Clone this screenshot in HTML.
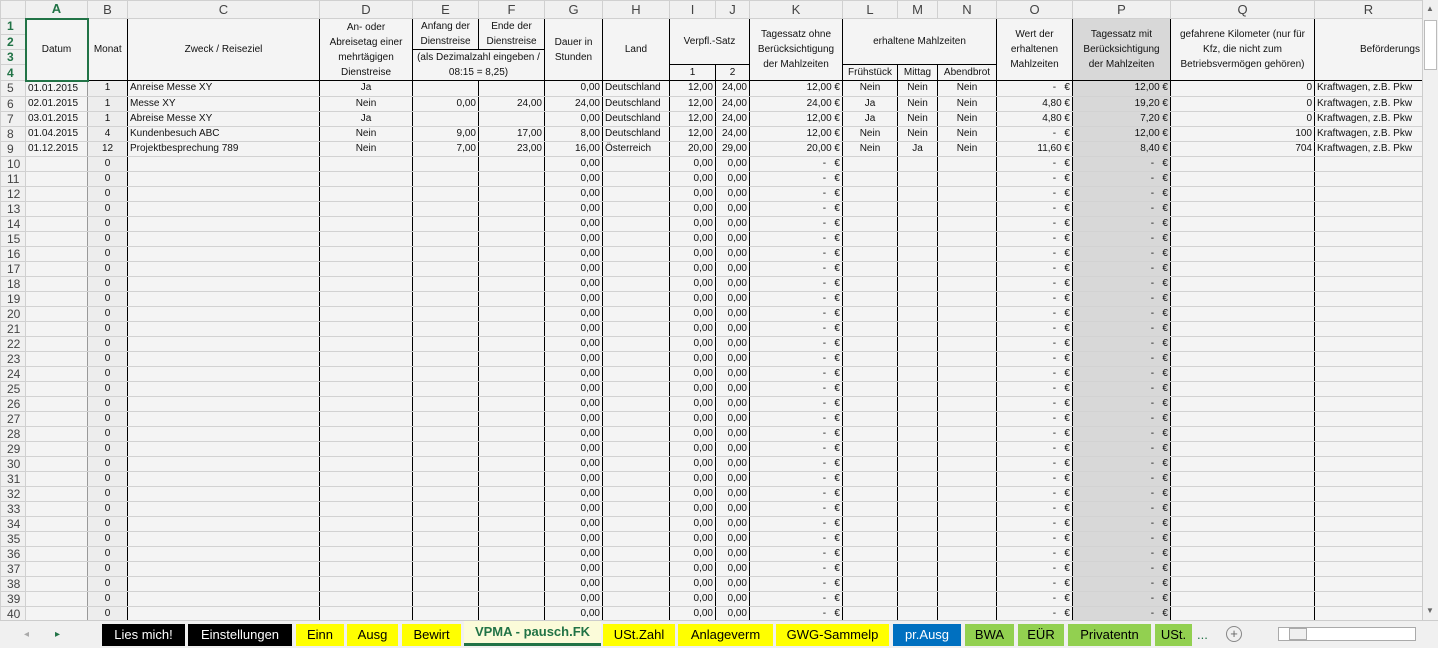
<!DOCTYPE html>
<html><head><meta charset="utf-8">
<style>
*{box-sizing:border-box}
body{margin:0;width:1438px;height:648px;overflow:hidden;background:#f4f4f4;font-family:"Liberation Sans",sans-serif;font-size:10px;color:#111;position:relative}
table{border-collapse:collapse;table-layout:fixed;position:absolute;left:0;top:0;width:1422px}
td,th{padding:0 2px;white-space:nowrap;overflow:hidden;height:15px;line-height:14px;border:1px solid #d2d2d2}
thead th{height:18px;background:#f0f0f0;color:#444;font-weight:normal;font-size:13px;border-color:#d0d0d0}
tbody th{background:#f0f0f0;color:#444;font-weight:normal;font-size:12px;text-align:left;padding-left:6px;border-color:#d0d0d0}
.h td{text-align:center;white-space:normal;line-height:15px;border:1px solid #000;background:#f4f4f4;font-size:10px}
.d td{border-left:1px solid #000;border-right:1px solid #000}
.d td:nth-child(2){border-right:1px solid #999}
.d td:nth-child(3){background:#ededed;text-align:center;border-left:1px solid #999}
.d td:nth-child(17){background:#d8d8d8}
.r{text-align:right}.c{text-align:center}
.g{color:#217346;font-weight:bold!important}
#tabs{position:absolute;left:0;top:620px;width:1438px;height:28px;background:#f0f0f0;border-top:1px solid #ccc}
.t{position:absolute;top:3px;height:22px;line-height:22px;text-align:center;font-size:13px;color:#000}
.y{background:#ffff00}.b{background:#000;color:#fff}.gr{background:#92d050}
</style></head><body>
<table>
<colgroup><col style="width:25px"><col style="width:62px"><col style="width:40px"><col style="width:192px"><col style="width:93px"><col style="width:66px"><col style="width:66px"><col style="width:58px"><col style="width:67px"><col style="width:46px"><col style="width:34px"><col style="width:93px"><col style="width:55px"><col style="width:40px"><col style="width:59px"><col style="width:76px"><col style="width:98px"><col style="width:144px"><col style="width:108px"></colgroup>
<thead><tr><th></th><th class="g" style="border-bottom:2px solid #217346">A</th><th>B</th><th>C</th><th>D</th><th>E</th><th>F</th><th>G</th><th>H</th><th>I</th><th>J</th><th>K</th><th>L</th><th>M</th><th>N</th><th>O</th><th>P</th><th>Q</th><th>R</th></tr></thead>
<tbody>
<tr class="h"><th class="g">1</th><td rowspan="4" style="border:2px solid #217346">Datum</td><td rowspan="4">Monat</td><td rowspan="4">Zweck / Reiseziel</td><td rowspan="4">An- oder Abreisetag einer mehrtägigen Dienstreise</td><td rowspan="2">Anfang der Dienstreise</td><td rowspan="2">Ende der Dienstreise</td><td rowspan="4">Dauer in Stunden</td><td rowspan="4">Land</td><td rowspan="3" colspan="2">Verpfl.-Satz</td><td rowspan="4">Tagessatz ohne Berücksichtigung der Mahlzeiten</td><td rowspan="3" colspan="3">erhaltene Mahlzeiten</td><td rowspan="4">Wert der erhaltenen Mahlzeiten</td><td rowspan="4" style="background:#d8d8d8">Tagessatz mit Berücksichtigung der Mahlzeiten</td><td rowspan="4">gefahrene Kilometer (nur für Kfz, die nicht zum Betriebsvermögen gehören)</td><td rowspan="4" style="text-align:right">Beförderungs</td></tr>
<tr class="h"><th class="g">2</th></tr>
<tr class="h"><th class="g">3</th><td colspan="2" rowspan="2">(als Dezimalzahl eingeben / 08:15 = 8,25)</td></tr>
<tr class="h"><th class="g">4</th><td>1</td><td>2</td><td>Frühstück</td><td>Mittag</td><td>Abendbrot</td></tr>
<tr class="d"><th>5</th><td>01.01.2015</td><td>1</td><td>Anreise Messe XY</td><td class="c">Ja</td><td></td><td></td><td class="r">0,00</td><td>Deutschland</td><td class="r">12,00</td><td class="r">24,00</td><td class="r">12,00 €</td><td class="c">Nein</td><td class="c">Nein</td><td class="c">Nein</td><td class="r">-&nbsp;&nbsp;&nbsp;€</td><td class="r">12,00 €</td><td class="r">0</td><td>Kraftwagen, z.B. Pkw</td></tr>
<tr class="d"><th>6</th><td>02.01.2015</td><td>1</td><td>Messe XY</td><td class="c">Nein</td><td class="r">0,00</td><td class="r">24,00</td><td class="r">24,00</td><td>Deutschland</td><td class="r">12,00</td><td class="r">24,00</td><td class="r">24,00 €</td><td class="c">Ja</td><td class="c">Nein</td><td class="c">Nein</td><td class="r">4,80 €</td><td class="r">19,20 €</td><td class="r">0</td><td>Kraftwagen, z.B. Pkw</td></tr>
<tr class="d"><th>7</th><td>03.01.2015</td><td>1</td><td>Abreise Messe XY</td><td class="c">Ja</td><td></td><td></td><td class="r">0,00</td><td>Deutschland</td><td class="r">12,00</td><td class="r">24,00</td><td class="r">12,00 €</td><td class="c">Ja</td><td class="c">Nein</td><td class="c">Nein</td><td class="r">4,80 €</td><td class="r">7,20 €</td><td class="r">0</td><td>Kraftwagen, z.B. Pkw</td></tr>
<tr class="d"><th>8</th><td>01.04.2015</td><td>4</td><td>Kundenbesuch ABC</td><td class="c">Nein</td><td class="r">9,00</td><td class="r">17,00</td><td class="r">8,00</td><td>Deutschland</td><td class="r">12,00</td><td class="r">24,00</td><td class="r">12,00 €</td><td class="c">Nein</td><td class="c">Nein</td><td class="c">Nein</td><td class="r">-&nbsp;&nbsp;&nbsp;€</td><td class="r">12,00 €</td><td class="r">100</td><td>Kraftwagen, z.B. Pkw</td></tr>
<tr class="d"><th>9</th><td>01.12.2015</td><td>12</td><td>Projektbesprechung 789</td><td class="c">Nein</td><td class="r">7,00</td><td class="r">23,00</td><td class="r">16,00</td><td>Österreich</td><td class="r">20,00</td><td class="r">29,00</td><td class="r">20,00 €</td><td class="c">Nein</td><td class="c">Ja</td><td class="c">Nein</td><td class="r">11,60 €</td><td class="r">8,40 €</td><td class="r">704</td><td>Kraftwagen, z.B. Pkw</td></tr>
<tr class="d"><th>10</th><td></td><td>0</td><td></td><td></td><td></td><td></td><td class="r">0,00</td><td></td><td class="r">0,00</td><td class="r">0,00</td><td class="r">-&nbsp;&nbsp;&nbsp;€</td><td></td><td></td><td></td><td class="r">-&nbsp;&nbsp;&nbsp;€</td><td class="r">-&nbsp;&nbsp;&nbsp;€</td><td></td><td></td></tr>
<tr class="d"><th>11</th><td></td><td>0</td><td></td><td></td><td></td><td></td><td class="r">0,00</td><td></td><td class="r">0,00</td><td class="r">0,00</td><td class="r">-&nbsp;&nbsp;&nbsp;€</td><td></td><td></td><td></td><td class="r">-&nbsp;&nbsp;&nbsp;€</td><td class="r">-&nbsp;&nbsp;&nbsp;€</td><td></td><td></td></tr>
<tr class="d"><th>12</th><td></td><td>0</td><td></td><td></td><td></td><td></td><td class="r">0,00</td><td></td><td class="r">0,00</td><td class="r">0,00</td><td class="r">-&nbsp;&nbsp;&nbsp;€</td><td></td><td></td><td></td><td class="r">-&nbsp;&nbsp;&nbsp;€</td><td class="r">-&nbsp;&nbsp;&nbsp;€</td><td></td><td></td></tr>
<tr class="d"><th>13</th><td></td><td>0</td><td></td><td></td><td></td><td></td><td class="r">0,00</td><td></td><td class="r">0,00</td><td class="r">0,00</td><td class="r">-&nbsp;&nbsp;&nbsp;€</td><td></td><td></td><td></td><td class="r">-&nbsp;&nbsp;&nbsp;€</td><td class="r">-&nbsp;&nbsp;&nbsp;€</td><td></td><td></td></tr>
<tr class="d"><th>14</th><td></td><td>0</td><td></td><td></td><td></td><td></td><td class="r">0,00</td><td></td><td class="r">0,00</td><td class="r">0,00</td><td class="r">-&nbsp;&nbsp;&nbsp;€</td><td></td><td></td><td></td><td class="r">-&nbsp;&nbsp;&nbsp;€</td><td class="r">-&nbsp;&nbsp;&nbsp;€</td><td></td><td></td></tr>
<tr class="d"><th>15</th><td></td><td>0</td><td></td><td></td><td></td><td></td><td class="r">0,00</td><td></td><td class="r">0,00</td><td class="r">0,00</td><td class="r">-&nbsp;&nbsp;&nbsp;€</td><td></td><td></td><td></td><td class="r">-&nbsp;&nbsp;&nbsp;€</td><td class="r">-&nbsp;&nbsp;&nbsp;€</td><td></td><td></td></tr>
<tr class="d"><th>16</th><td></td><td>0</td><td></td><td></td><td></td><td></td><td class="r">0,00</td><td></td><td class="r">0,00</td><td class="r">0,00</td><td class="r">-&nbsp;&nbsp;&nbsp;€</td><td></td><td></td><td></td><td class="r">-&nbsp;&nbsp;&nbsp;€</td><td class="r">-&nbsp;&nbsp;&nbsp;€</td><td></td><td></td></tr>
<tr class="d"><th>17</th><td></td><td>0</td><td></td><td></td><td></td><td></td><td class="r">0,00</td><td></td><td class="r">0,00</td><td class="r">0,00</td><td class="r">-&nbsp;&nbsp;&nbsp;€</td><td></td><td></td><td></td><td class="r">-&nbsp;&nbsp;&nbsp;€</td><td class="r">-&nbsp;&nbsp;&nbsp;€</td><td></td><td></td></tr>
<tr class="d"><th>18</th><td></td><td>0</td><td></td><td></td><td></td><td></td><td class="r">0,00</td><td></td><td class="r">0,00</td><td class="r">0,00</td><td class="r">-&nbsp;&nbsp;&nbsp;€</td><td></td><td></td><td></td><td class="r">-&nbsp;&nbsp;&nbsp;€</td><td class="r">-&nbsp;&nbsp;&nbsp;€</td><td></td><td></td></tr>
<tr class="d"><th>19</th><td></td><td>0</td><td></td><td></td><td></td><td></td><td class="r">0,00</td><td></td><td class="r">0,00</td><td class="r">0,00</td><td class="r">-&nbsp;&nbsp;&nbsp;€</td><td></td><td></td><td></td><td class="r">-&nbsp;&nbsp;&nbsp;€</td><td class="r">-&nbsp;&nbsp;&nbsp;€</td><td></td><td></td></tr>
<tr class="d"><th>20</th><td></td><td>0</td><td></td><td></td><td></td><td></td><td class="r">0,00</td><td></td><td class="r">0,00</td><td class="r">0,00</td><td class="r">-&nbsp;&nbsp;&nbsp;€</td><td></td><td></td><td></td><td class="r">-&nbsp;&nbsp;&nbsp;€</td><td class="r">-&nbsp;&nbsp;&nbsp;€</td><td></td><td></td></tr>
<tr class="d"><th>21</th><td></td><td>0</td><td></td><td></td><td></td><td></td><td class="r">0,00</td><td></td><td class="r">0,00</td><td class="r">0,00</td><td class="r">-&nbsp;&nbsp;&nbsp;€</td><td></td><td></td><td></td><td class="r">-&nbsp;&nbsp;&nbsp;€</td><td class="r">-&nbsp;&nbsp;&nbsp;€</td><td></td><td></td></tr>
<tr class="d"><th>22</th><td></td><td>0</td><td></td><td></td><td></td><td></td><td class="r">0,00</td><td></td><td class="r">0,00</td><td class="r">0,00</td><td class="r">-&nbsp;&nbsp;&nbsp;€</td><td></td><td></td><td></td><td class="r">-&nbsp;&nbsp;&nbsp;€</td><td class="r">-&nbsp;&nbsp;&nbsp;€</td><td></td><td></td></tr>
<tr class="d"><th>23</th><td></td><td>0</td><td></td><td></td><td></td><td></td><td class="r">0,00</td><td></td><td class="r">0,00</td><td class="r">0,00</td><td class="r">-&nbsp;&nbsp;&nbsp;€</td><td></td><td></td><td></td><td class="r">-&nbsp;&nbsp;&nbsp;€</td><td class="r">-&nbsp;&nbsp;&nbsp;€</td><td></td><td></td></tr>
<tr class="d"><th>24</th><td></td><td>0</td><td></td><td></td><td></td><td></td><td class="r">0,00</td><td></td><td class="r">0,00</td><td class="r">0,00</td><td class="r">-&nbsp;&nbsp;&nbsp;€</td><td></td><td></td><td></td><td class="r">-&nbsp;&nbsp;&nbsp;€</td><td class="r">-&nbsp;&nbsp;&nbsp;€</td><td></td><td></td></tr>
<tr class="d"><th>25</th><td></td><td>0</td><td></td><td></td><td></td><td></td><td class="r">0,00</td><td></td><td class="r">0,00</td><td class="r">0,00</td><td class="r">-&nbsp;&nbsp;&nbsp;€</td><td></td><td></td><td></td><td class="r">-&nbsp;&nbsp;&nbsp;€</td><td class="r">-&nbsp;&nbsp;&nbsp;€</td><td></td><td></td></tr>
<tr class="d"><th>26</th><td></td><td>0</td><td></td><td></td><td></td><td></td><td class="r">0,00</td><td></td><td class="r">0,00</td><td class="r">0,00</td><td class="r">-&nbsp;&nbsp;&nbsp;€</td><td></td><td></td><td></td><td class="r">-&nbsp;&nbsp;&nbsp;€</td><td class="r">-&nbsp;&nbsp;&nbsp;€</td><td></td><td></td></tr>
<tr class="d"><th>27</th><td></td><td>0</td><td></td><td></td><td></td><td></td><td class="r">0,00</td><td></td><td class="r">0,00</td><td class="r">0,00</td><td class="r">-&nbsp;&nbsp;&nbsp;€</td><td></td><td></td><td></td><td class="r">-&nbsp;&nbsp;&nbsp;€</td><td class="r">-&nbsp;&nbsp;&nbsp;€</td><td></td><td></td></tr>
<tr class="d"><th>28</th><td></td><td>0</td><td></td><td></td><td></td><td></td><td class="r">0,00</td><td></td><td class="r">0,00</td><td class="r">0,00</td><td class="r">-&nbsp;&nbsp;&nbsp;€</td><td></td><td></td><td></td><td class="r">-&nbsp;&nbsp;&nbsp;€</td><td class="r">-&nbsp;&nbsp;&nbsp;€</td><td></td><td></td></tr>
<tr class="d"><th>29</th><td></td><td>0</td><td></td><td></td><td></td><td></td><td class="r">0,00</td><td></td><td class="r">0,00</td><td class="r">0,00</td><td class="r">-&nbsp;&nbsp;&nbsp;€</td><td></td><td></td><td></td><td class="r">-&nbsp;&nbsp;&nbsp;€</td><td class="r">-&nbsp;&nbsp;&nbsp;€</td><td></td><td></td></tr>
<tr class="d"><th>30</th><td></td><td>0</td><td></td><td></td><td></td><td></td><td class="r">0,00</td><td></td><td class="r">0,00</td><td class="r">0,00</td><td class="r">-&nbsp;&nbsp;&nbsp;€</td><td></td><td></td><td></td><td class="r">-&nbsp;&nbsp;&nbsp;€</td><td class="r">-&nbsp;&nbsp;&nbsp;€</td><td></td><td></td></tr>
<tr class="d"><th>31</th><td></td><td>0</td><td></td><td></td><td></td><td></td><td class="r">0,00</td><td></td><td class="r">0,00</td><td class="r">0,00</td><td class="r">-&nbsp;&nbsp;&nbsp;€</td><td></td><td></td><td></td><td class="r">-&nbsp;&nbsp;&nbsp;€</td><td class="r">-&nbsp;&nbsp;&nbsp;€</td><td></td><td></td></tr>
<tr class="d"><th>32</th><td></td><td>0</td><td></td><td></td><td></td><td></td><td class="r">0,00</td><td></td><td class="r">0,00</td><td class="r">0,00</td><td class="r">-&nbsp;&nbsp;&nbsp;€</td><td></td><td></td><td></td><td class="r">-&nbsp;&nbsp;&nbsp;€</td><td class="r">-&nbsp;&nbsp;&nbsp;€</td><td></td><td></td></tr>
<tr class="d"><th>33</th><td></td><td>0</td><td></td><td></td><td></td><td></td><td class="r">0,00</td><td></td><td class="r">0,00</td><td class="r">0,00</td><td class="r">-&nbsp;&nbsp;&nbsp;€</td><td></td><td></td><td></td><td class="r">-&nbsp;&nbsp;&nbsp;€</td><td class="r">-&nbsp;&nbsp;&nbsp;€</td><td></td><td></td></tr>
<tr class="d"><th>34</th><td></td><td>0</td><td></td><td></td><td></td><td></td><td class="r">0,00</td><td></td><td class="r">0,00</td><td class="r">0,00</td><td class="r">-&nbsp;&nbsp;&nbsp;€</td><td></td><td></td><td></td><td class="r">-&nbsp;&nbsp;&nbsp;€</td><td class="r">-&nbsp;&nbsp;&nbsp;€</td><td></td><td></td></tr>
<tr class="d"><th>35</th><td></td><td>0</td><td></td><td></td><td></td><td></td><td class="r">0,00</td><td></td><td class="r">0,00</td><td class="r">0,00</td><td class="r">-&nbsp;&nbsp;&nbsp;€</td><td></td><td></td><td></td><td class="r">-&nbsp;&nbsp;&nbsp;€</td><td class="r">-&nbsp;&nbsp;&nbsp;€</td><td></td><td></td></tr>
<tr class="d"><th>36</th><td></td><td>0</td><td></td><td></td><td></td><td></td><td class="r">0,00</td><td></td><td class="r">0,00</td><td class="r">0,00</td><td class="r">-&nbsp;&nbsp;&nbsp;€</td><td></td><td></td><td></td><td class="r">-&nbsp;&nbsp;&nbsp;€</td><td class="r">-&nbsp;&nbsp;&nbsp;€</td><td></td><td></td></tr>
<tr class="d"><th>37</th><td></td><td>0</td><td></td><td></td><td></td><td></td><td class="r">0,00</td><td></td><td class="r">0,00</td><td class="r">0,00</td><td class="r">-&nbsp;&nbsp;&nbsp;€</td><td></td><td></td><td></td><td class="r">-&nbsp;&nbsp;&nbsp;€</td><td class="r">-&nbsp;&nbsp;&nbsp;€</td><td></td><td></td></tr>
<tr class="d"><th>38</th><td></td><td>0</td><td></td><td></td><td></td><td></td><td class="r">0,00</td><td></td><td class="r">0,00</td><td class="r">0,00</td><td class="r">-&nbsp;&nbsp;&nbsp;€</td><td></td><td></td><td></td><td class="r">-&nbsp;&nbsp;&nbsp;€</td><td class="r">-&nbsp;&nbsp;&nbsp;€</td><td></td><td></td></tr>
<tr class="d"><th>39</th><td></td><td>0</td><td></td><td></td><td></td><td></td><td class="r">0,00</td><td></td><td class="r">0,00</td><td class="r">0,00</td><td class="r">-&nbsp;&nbsp;&nbsp;€</td><td></td><td></td><td></td><td class="r">-&nbsp;&nbsp;&nbsp;€</td><td class="r">-&nbsp;&nbsp;&nbsp;€</td><td></td><td></td></tr>
<tr class="d"><th>40</th><td></td><td>0</td><td></td><td></td><td></td><td></td><td class="r">0,00</td><td></td><td class="r">0,00</td><td class="r">0,00</td><td class="r">-&nbsp;&nbsp;&nbsp;€</td><td></td><td></td><td></td><td class="r">-&nbsp;&nbsp;&nbsp;€</td><td class="r">-&nbsp;&nbsp;&nbsp;€</td><td></td><td></td></tr>
</tbody></table>
<div style="position:absolute;left:1422px;top:0;width:16px;height:620px;background:#f0f0f0;border-left:1px solid #ccc">
<div style="position:absolute;left:3px;top:4px;font-size:8px;color:#666">▲</div>
<div style="position:absolute;left:1px;top:20px;width:13px;height:50px;background:#fff;border:1px solid #bbb"></div>
<div style="position:absolute;left:3px;top:606px;font-size:8px;color:#666">▼</div>
</div>
<div id="tabs">
<div class="t" style="left:24px;color:#aaa;font-size:10px">◂</div>
<div class="t" style="left:55px;color:#217346;font-size:10px">▸</div>
<div class="t b" style="left:102px;width:83px">Lies mich!</div>
<div class="t b" style="left:188px;width:104px">Einstellungen</div>
<div class="t y" style="left:296px;width:48px">Einn</div>
<div class="t y" style="left:347px;width:51px">Ausg</div>
<div class="t y" style="left:402px;width:59px">Bewirt</div>
<div class="t" style="left:464px;width:137px;top:0;height:25px;background:#fbfbd9;color:#217346;font-weight:bold;border-bottom:3px solid #217346">VPMA - pausch.FK</div>
<div class="t y" style="left:603px;width:72px">USt.Zahl</div>
<div class="t y" style="left:678px;width:95px">Anlageverm</div>
<div class="t y" style="left:776px;width:113px">GWG-Sammelp</div>
<div class="t" style="left:893px;width:68px;background:#0070c0;color:#fff">pr.Ausg</div>
<div class="t gr" style="left:965px;width:49px">BWA</div>
<div class="t gr" style="left:1018px;width:46px">EÜR</div>
<div class="t gr" style="left:1068px;width:83px">Privatentn</div>
<div class="t gr" style="left:1155px;width:37px">USt.</div>
<div class="t" style="left:1197px;color:#217346">...</div>
<div class="t" style="left:1226px;width:16px;height:16px;top:5px;line-height:14px;border:1px solid #888;border-radius:50%;color:#666">+</div>
<div style="position:absolute;left:1278px;top:6px;width:138px;height:14px;background:#fff;border:1px solid #aaa"><div style="position:absolute;left:10px;top:0;width:18px;height:12px;border:1px solid #aaa;background:#f0f0f0"></div></div>
</div>
</body></html>
